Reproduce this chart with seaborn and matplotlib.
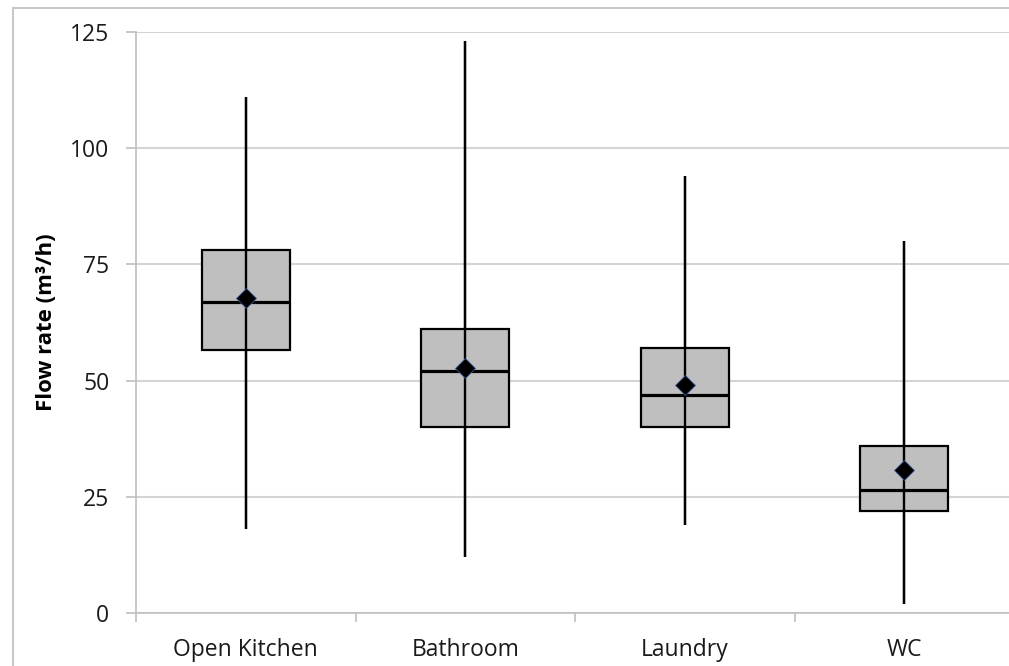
import numpy as np
import pandas as pd
import matplotlib
matplotlib.use("Agg")
import matplotlib.pyplot as plt
from matplotlib.patches import Rectangle
from matplotlib.ticker import FixedLocator
import seaborn as sns

# values (m3/h)
rooms = ['Open Kitchen', 'Bathroom', 'Laundry', 'WC']
flow_min = [18, 12, 19, 2]
flow_q1 = [56.5, 40, 40, 22]
flow_median = [67, 52, 47, 26.5]
flow_q3 = [78, 61, 57, 36]
flow_max = [111, 123, 94, 80]
flow_mean = [67.7, 52.8, 49, 30.8]
y_ticks = [0, 25, 50, 75, 100, 125]

GRID = '#d4d4d4'
AXIS = '#bfbfbf'
BOX = '#bfbfbf'

sns.set_theme(style='whitegrid', rc={'grid.color': GRID, 'grid.linewidth': 1.5})
plt.rcParams['font.family'] = ['Open Sans', 'DejaVu Sans']

# five-number summary per room; seaborn's percentiles of these give back the same box
rows = []
for i, room in enumerate(rooms):
    for v in (flow_min[i], flow_q1[i], flow_median[i], flow_q3[i], flow_max[i]):
        rows.append({'room': room, 'flow': v})
df = pd.DataFrame(rows)

fig, ax = plt.subplots(figsize=(10.09, 6.66), dpi=100)
fig.subplots_adjust(left=0.1348, right=1.0, bottom=0.0796, top=0.952)

sns.boxplot(data=df, x='room', y='flow', order=rooms, whis=(0, 100), width=0.4,
            color=BOX, saturation=1, linecolor='black', linewidth=1.6,
            showcaps=False, fliersize=0, medianprops={'linewidth': 2.3}, ax=ax)

# Excel-style whisker runs straight through the box
ax.vlines(np.arange(len(rooms)), flow_min, flow_max, color='black', lw=1.7, zorder=4)

sns.pointplot(x=rooms, y=flow_mean, order=rooms, linestyle='none', marker='D',
              markersize=10.5, color='black', errorbar=None, ax=ax, zorder=6,
              markeredgecolor='#3a5a9a', markeredgewidth=0.6)

ax.set_xlim(-0.5, 3.477)
ax.set_ylim(0, 125)
ax.set_yticks(y_ticks)
ax.set_xticks(range(len(rooms)))
ax.set_xticklabels(rooms)
ax.xaxis.set_minor_locator(FixedLocator([-0.5, 0.5, 1.5, 2.5]))
ax.grid(axis='x', visible=False)
ax.grid(axis='y', which='major', visible=True, color=GRID, linewidth=1.5)

ax.tick_params(axis='x', which='major', length=0, pad=18, labelsize=16.5, labelcolor='#1a1a1a')
ax.tick_params(axis='x', which='minor', length=6.5, width=1.2, color=AXIS, bottom=True)
ax.tick_params(axis='y', which='major', length=7.2, width=1.2, color=AXIS, left=True,
               pad=12, labelsize=16.5, labelcolor='#1a1a1a')

for side in ['top', 'right']:
    ax.spines[side].set_visible(False)
for side in ['left', 'bottom']:
    ax.spines[side].set_color(AXIS)
    ax.spines[side].set_linewidth(1.2)

ax.set_xlabel('')
ax.set_ylabel('Flow rate (m³/h)', fontsize=16, fontweight='bold', color='black')
ax.yaxis.set_label_coords(-0.0905, 0.5)

# light frame around the chart area, cut off at right and bottom like the source image
fig.patches.append(Rectangle((13 / 1009, -0.05), 1.1, 1.05 - 8 / 666,
                             transform=fig.transFigure, fill=False,
                             edgecolor='#c8c8c8', linewidth=1.5))

fig.savefig('out.png', dpi=100)
